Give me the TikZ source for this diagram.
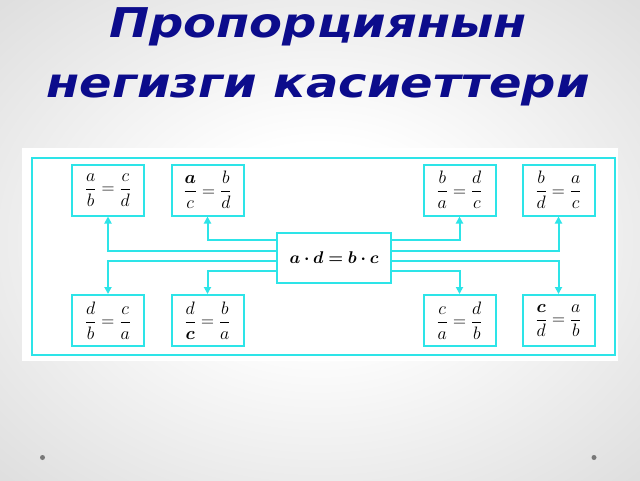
\RequirePackage{fix-cm}
\documentclass[tikz,border=0pt]{standalone}
\usepackage{bm}
\usepackage{fontspec}
\newfontfamily\titlefont[FakeStretch=1.17]{DejaVu Sans}
\usetikzlibrary{arrows.meta}
\definecolor{frameblue}{RGB}{45,228,232}
\definecolor{titleblue}{RGB}{12,12,140}
\definecolor{slidegray}{RGB}{214,214,214}
\definecolor{cornergray}{RGB}{200,200,200}
\definecolor{dotgray}{RGB}{120,120,120}
\pgfdeclareradialshading{slideglow}{\pgfpoint{0bp}{0bp}}{%
  color(0bp)=(white); color(10bp)=(white); color(42bp)=(slidegray);
  color(71bp)=(cornergray)}
\tikzset{
  every picture/.append style={x=1pt, y=-1pt},
  propbox/.style={draw=frameblue, line width=2pt, fill=white, minimum width=72pt,
    minimum height=51pt, inner sep=0pt, font=\fontsize{18}{21}\selectfont},
  mainbox/.style={propbox, minimum width=114pt, minimum height=50pt,
    font=\fontsize{17}{20}\selectfont},
  link/.style={draw=frameblue, line width=2pt, -{Triangle[length=7pt,width=7pt]}},
  headline/.style={font=\titlefont\bfseries\itshape\fontsize{41}{48}\selectfont,
    text=titleblue, anchor=base, inner sep=0pt},
}

\begin{document}
\begin{tikzpicture}
  % slide background
  \shade[shading=slideglow] (0,0) rectangle (640,480);
  \useasboundingbox (0,0) rectangle (640,480);
  \node[headline] (title1) at (318,37) {Пропорциянын};
  \node[headline] (title2) at (318,97) {негизги касиеттери};
  \fill[dotgray] (42.5,457.5) circle (2.5pt) (594,457.5) circle (2.5pt);

  % panel
  \fill[white] (22,148) rectangle (618,361);
  \draw[frameblue, line width=2.5pt] (32,158) rectangle (615,355);

  % boxes
  \node[mainbox] (main) at (334,258) {$\bm{a\cdot d=b\cdot c}$};
  \node[propbox] (ab) at (108,190) {$\displaystyle\frac{a}{b}=\frac{c}{d}$};
  \node[propbox] (ac) at (207.5,190) {$\displaystyle\frac{\bm{a}}{c}=\frac{b}{d}$};
  \node[propbox] (ba) at (459.5,190) {$\displaystyle\frac{b}{a}=\frac{d}{c}$};
  \node[propbox] (bd) at (558.5,190) {$\displaystyle\frac{b}{d}=\frac{a}{c}$};
  \node[propbox] (db) at (108,320.5) {$\displaystyle\frac{d}{b}=\frac{c}{a}$};
  \node[propbox] (dc) at (207.5,320.5) {$\displaystyle\frac{d}{\bm{c}}=\frac{b}{a}$};
  \node[propbox] (ca) at (459.5,320.5) {$\displaystyle\frac{c}{a}=\frac{d}{b}$};
  \node[propbox] (cd) at (558.5,320.5) {$\displaystyle\frac{\bm{c}}{d}=\frac{a}{b}$};

  % links
  \draw[link] ([yshift=18pt]main.west) -| (ac.south);
  \draw[link] ([yshift=7pt]main.west) -| (ab.south);
  \draw[link] ([yshift=-3pt]main.west) -| (db.north);
  \draw[link] ([yshift=-13pt]main.west) -| (dc.north);
  \draw[link] ([yshift=18pt]main.east) -| (ba.south);
  \draw[link] ([yshift=7pt]main.east) -| (bd.south);
  \draw[link] ([yshift=-3pt]main.east) -| (cd.north);
  \draw[link] ([yshift=-13pt]main.east) -| (ca.north);
\end{tikzpicture}
\end{document}
